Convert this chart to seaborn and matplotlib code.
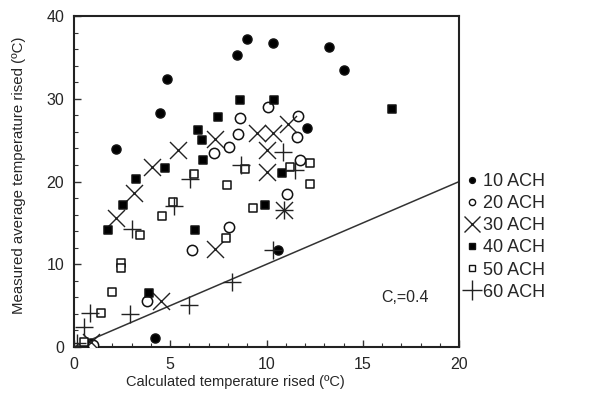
import pandas as pd
import seaborn as sns
import matplotlib.pyplot as plt
from matplotlib.ticker import MultipleLocator
from matplotlib.lines import Line2D

ach10_x = [0.85, 2.2, 4.2, 4.45, 4.85, 8.45, 9.0, 10.35, 10.6, 12.1, 13.25, 14.0]
ach10_y = [0.45, 23.9, 1.05, 28.3, 32.4, 35.3, 37.2, 36.7, 11.7, 26.5, 36.3, 33.5]

ach20_x = [1.0, 3.8, 6.15, 7.25, 8.05, 8.05, 8.5, 8.6, 10.1, 11.05, 11.6, 11.65, 11.75]
ach20_y = [0.3, 5.6, 11.7, 23.4, 24.2, 14.55, 25.7, 27.7, 29.0, 18.5, 25.4, 27.9, 22.6]

ach30_x = [0.9, 2.2, 3.1, 4.05, 4.5, 5.4, 7.3, 7.3, 9.5, 10.0, 10.0, 10.35, 10.9, 11.1]
ach30_y = [0.6, 15.55, 18.6, 21.7, 5.6, 23.8, 25.2, 11.9, 25.9, 23.8, 21.2, 25.9, 16.6, 27.0]

ach40_x = [1.75, 2.55, 3.25, 3.9, 4.75, 6.3, 6.45, 6.65, 6.7, 7.5, 8.6, 9.9, 10.4, 10.8, 16.5]
ach40_y = [14.1, 17.2, 20.3, 6.5, 21.6, 14.1, 26.2, 25.0, 22.6, 27.8, 29.8, 17.2, 29.85, 21.0, 28.8]

ach50_x = [0.55, 1.4, 2.0, 2.45, 2.45, 3.45, 4.55, 5.15, 6.25, 7.9, 7.95, 8.9, 9.3, 11.2, 12.25, 12.25]
ach50_y = [0.6, 4.15, 6.7, 10.1, 9.6, 13.5, 15.8, 17.5, 20.9, 13.2, 19.6, 21.5, 16.75, 21.7, 22.3, 19.7]

ach60_x = [0.15, 0.55, 0.85, 2.9, 3.0, 5.2, 6.0, 6.05, 8.2, 8.65, 10.35, 10.85, 10.9, 11.5]
ach60_y = [0.45, 2.45, 4.15, 4.0, 14.3, 17.0, 5.1, 20.3, 7.9, 22.0, 11.7, 23.6, 16.6, 21.4]

labels = ['10 ACH', '20 ACH', '30 ACH', '40 ACH', '50 ACH', '60 ACH']
series = [(ach10_x, ach10_y), (ach20_x, ach20_y), (ach30_x, ach30_y),
          (ach40_x, ach40_y), (ach50_x, ach50_y), (ach60_x, ach60_y)]
# marker, relleno, tamano en grafico, tamano en leyenda
estilos = [('o', 'black', 42, 4.2), ('o', 'white', 55, 4.5), ('x', None, 150, 12),
           ('s', 'black', 40, 4.2), ('s', 'white', 40, 4.2), ('+', None, 150, 14)]

sns.set_style('white')
plt.rcParams['font.family'] = ['Liberation Sans', 'DejaVu Sans']

fig = plt.figure(figsize=(5.91, 4.03), dpi=100)
ax = fig.add_axes([0.125, 0.139, 0.652, 0.821])

# linea de referencia y = x
ax.axline((0, 0), slope=1, color='#333333', lw=1.1, zorder=1)

handles = []
for (xs, ys), lab, (m, fc, s, ls) in zip(series, labels, estilos):
    df = pd.DataFrame({'x': xs, 'y': ys})
    if fc is None:
        sns.scatterplot(data=df, x='x', y='y', marker=m, s=s, color='#222222',
                        linewidth=1.0, ax=ax, zorder=3)
        handles.append(Line2D([], [], ls='', marker=m, ms=ls, color='#222222', mew=1.0))
    else:
        sns.scatterplot(data=df, x='x', y='y', marker=m, s=s, facecolor=fc,
                        edgecolor='#111111', linewidth=1.1, ax=ax, zorder=3)
        handles.append(Line2D([], [], ls='', marker=m, ms=ls, mfc=fc, mec='#111111', mew=1.0))

ax.set_xlim(0, 20)
ax.set_ylim(0, 40)
ax.xaxis.set_major_locator(MultipleLocator(5))
ax.xaxis.set_minor_locator(MultipleLocator(1))
ax.yaxis.set_major_locator(MultipleLocator(10))
ax.yaxis.set_minor_locator(MultipleLocator(2))
ax.tick_params(which='both', direction='in', bottom=True, left=True, labelsize=11.5,
               color='#333333', pad=7)
ax.tick_params(which='major', length=5, width=1)
ax.tick_params(which='minor', length=3, width=0.8)
for sp in ax.spines.values():
    sp.set_linewidth(1.5)
    sp.set_color('#222222')

ax.set_xlabel('Calculated temperature rised (ºC)', fontsize=10.5)
ax.set_ylabel('Measured average temperature rised (ºC)', fontsize=10.8)
ax.xaxis.set_label_coords(0.42, -0.085)
ax.yaxis.set_label_coords(-0.125, 0.52)
ax.text(17.2, 6.0, 'C,=0.4', fontsize=11.5, ha='center', va='center')

fig.legend(handles, labels, loc='center left', bbox_to_anchor=(0.772, 0.412), frameon=False,
           fontsize=13, handlelength=0.9, handletextpad=0.2, labelspacing=0.28,
           borderaxespad=0)

fig.savefig('out.png', dpi=100)
